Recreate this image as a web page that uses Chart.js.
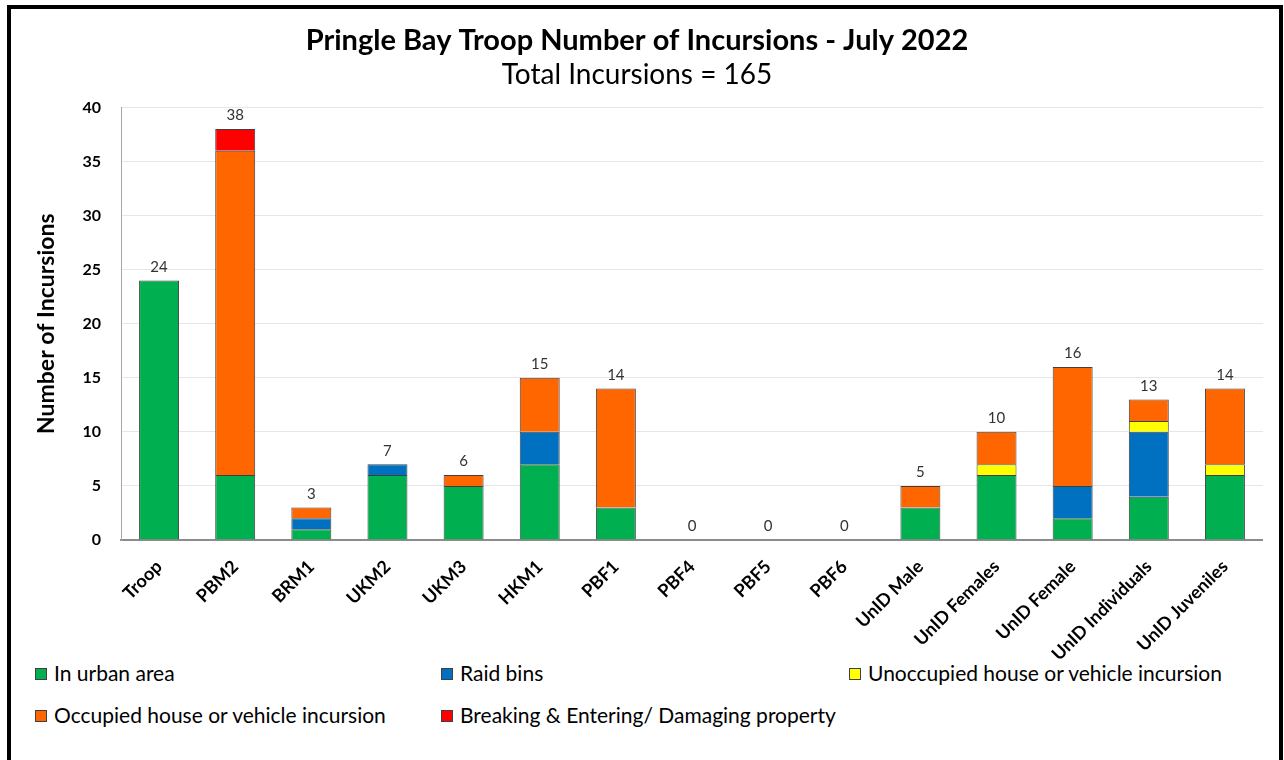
<!DOCTYPE html>
<html lang="en">
<head>
  <meta charset="UTF-8">
  <title>Pringle Bay Troop Number of Incursions - July 2022</title>
  <script src="https://cdn.jsdelivr.net/npm/chart.js"></script>
  <style>
    body {
      margin: 0;
      background: #fff;
      font-family: Lato, sans-serif;
      width: 1284px;
      height: 760px;
      overflow: hidden;
      position: relative;
    }
    .frame {
      position: absolute;
      left: 7px;
      top: 5px;
      width: 1268px;
      height: 800px;
      border: 4px solid #000;
    }
    .chart-box {
      position: absolute;
      left: 11px;
      top: 9px;
      width: 1252px;
      height: 650px;
    }
    .legend {
      position: absolute;
      left: 0;
      top: 0;
      font-size: 21px;
      color: #000;
    }
    .legend .item {
      position: absolute;
      white-space: nowrap;
      line-height: 24px;
    }
    .legend .box {
      display: inline-block;
      width: 10px;
      height: 10px;
      border: 1px solid #404040;
      margin-right: 7px;
      vertical-align: 1px;
    }
  </style>
</head>
<body>
  <div class="frame"></div>
  <div class="chart-box"><canvas id="chart"></canvas></div>
  <div class="legend" id="legend"></div>

  <script>
    const categories = ["Troop", "PBM2", "BRM1", "UKM2", "UKM3", "HKM1", "PBF1", "PBF4", "PBF5", "PBF6",
      "UnID Male", "UnID Females", "UnID Female", "UnID Individuals", "UnID Juveniles"];

    const urbanArea   = [24, 6, 1, 6, 5, 7, 3, 0, 0, 0, 3, 6, 2, 4, 6];
    const raidBins    = [0, 0, 1, 1, 0, 3, 0, 0, 0, 0, 0, 0, 3, 6, 0];
    const unoccupied  = [0, 0, 0, 0, 0, 0, 0, 0, 0, 0, 0, 1, 0, 1, 1];
    const occupied    = [0, 30, 1, 0, 1, 5, 11, 0, 0, 0, 2, 3, 11, 2, 7];
    const breaking    = [0, 2, 0, 0, 0, 0, 0, 0, 0, 0, 0, 0, 0, 0, 0];

    const yTicks = [0, 5, 10, 15, 20, 25, 30, 35, 40];

    const series = [
      { label: "In urban area", data: urbanArea, color: "#00B050" },
      { label: "Raid bins", data: raidBins, color: "#0070C0" },
      { label: "Unoccupied house or vehicle incursion", data: unoccupied, color: "#FFFF00" },
      { label: "Occupied house or vehicle incursion", data: occupied, color: "#FF6600" },
      { label: "Breaking & Entering/ Damaging property", data: breaking, color: "#FF0000" }
    ];

    // legend positions (3 columns, 2 rows like the original)
    const legendSpots = [[35, 661], [441, 661], [849, 661], [35, 703], [441, 703]];
    const legend = document.getElementById("legend");
    series.forEach((s, i) => {
      const el = document.createElement("div");
      el.className = "item";
      el.style.left = legendSpots[i][0] + "px";
      el.style.top = legendSpots[i][1] + "px";
      el.innerHTML = `<span class="box" style="background:${s.color}"></span>${s.label}`;
      legend.appendChild(el);
    });

    // totals above each stack
    const totalsPlugin = {
      id: "totals",
      afterDatasetsDraw(chart) {
        const ctx = chart.ctx;
        const x = chart.scales.x, y = chart.scales.y;
        ctx.save();
        ctx.font = "15px Lato, sans-serif";
        ctx.fillStyle = "#333";
        ctx.textAlign = "center";
        ctx.textBaseline = "bottom";
        categories.forEach((c, i) => {
          const total = series.reduce((a, s) => a + s.data[i], 0);
          ctx.fillText(total, x.getPixelForValue(i), y.getPixelForValue(total) - 6);
        });
        ctx.restore();
      }
    };

    new Chart(document.getElementById("chart"), {
      type: "bar",
      data: {
        labels: categories,
        datasets: series.map(s => ({
          label: s.label,
          data: s.data,
          backgroundColor: s.color,
          borderColor: "#404040",
          borderWidth: 1,
          barPercentage: 0.525,
          categoryPercentage: 1
        }))
      },
      options: {
        responsive: true,
        maintainAspectRatio: false,
        animation: false,
        layout: { padding: { right: 0 } },
        plugins: {
          legend: { display: false },
          tooltip: { enabled: false },
          title: {
            display: true,
            text: "Pringle Bay Troop Number of Incursions - July 2022",
            color: "#000",
            font: { family: "Lato, sans-serif", size: 29, weight: "bold" },
            padding: { top: 14, bottom: 0 }
          },
          subtitle: {
            display: true,
            text: "Total Incursions = 165",
            color: "#000",
            font: { family: "Lato, sans-serif", size: 28 },
            padding: { top: 0, bottom: 16 }
          }
        },
        scales: {
          x: {
            stacked: true,
            grid: { display: true, color: "transparent", drawTicks: false },
            border: { display: true, color: "#8c8c8c", width: 2 },
            ticks: {
              color: "#000",
              font: { family: "Lato, sans-serif", size: 18, weight: "bold" },
              maxRotation: 45,
              minRotation: 45,
              autoSkip: false,
              padding: 16
            },
            afterFit(scale) { scale.height = 119; }
          },
          y: {
            stacked: true,
            min: 0,
            max: 40,
            afterBuildTicks(scale) { scale.ticks = yTicks.map(v => ({ value: v })); },
            grid: { color: "#e6e6e6", drawTicks: false },
            border: { display: true, color: "#a6a6a6", width: 1 },
            ticks: {
              color: "#000",
              font: { family: "Lato, sans-serif", size: 16, weight: "bold" },
              padding: 20
            },
            title: {
              display: true,
              text: "Number of Incursions",
              color: "#000",
              font: { family: "Lato, sans-serif", size: 23, weight: "bold" },
              padding: { top: 22 }
            },
            afterFit(scale) { scale.width = 110; }
          }
        }
      },
      plugins: [totalsPlugin]
    });
  </script>
</body>
</html>
